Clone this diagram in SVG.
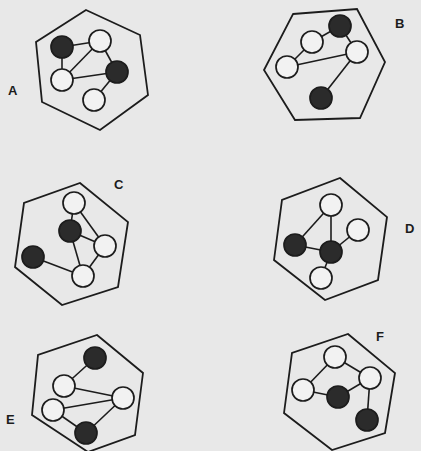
<svg xmlns="http://www.w3.org/2000/svg" width="421" height="451" viewBox="0 0 421 451">
<style>
.hex{fill:none;stroke:#1c1c1c;stroke-width:1.8;stroke-linejoin:miter}
.e{stroke:#1c1c1c;stroke-width:1.6}
.o{fill:#f2f2f2;stroke:#1c1c1c;stroke-width:1.7}
.f{fill:#2b2b2b;stroke:#1c1c1c;stroke-width:1.7}
.lbl{font-family:"Liberation Sans",Arial,sans-serif;font-weight:bold;font-size:13px;fill:#1c1c1c}
</style>
<rect width="421" height="451" fill="#e8e8e8"/>
<g id="connectors">
<!-- A -->
<line class="e" x1="62" y1="47" x2="100" y2="41"/>
<line class="e" x1="62" y1="47" x2="62" y2="80"/>
<line class="e" x1="100" y1="41" x2="62" y2="80"/>
<line class="e" x1="100" y1="41" x2="117" y2="72"/>
<line class="e" x1="62" y1="80" x2="117" y2="72"/>
<line class="e" x1="117" y1="72" x2="94" y2="100"/>
<!-- B -->
<line class="e" x1="340" y1="26" x2="312" y2="42"/>
<line class="e" x1="312" y1="42" x2="287" y2="67"/>
<line class="e" x1="287" y1="67" x2="357" y2="52"/>
<line class="e" x1="340" y1="26" x2="357" y2="52"/>
<line class="e" x1="357" y1="52" x2="321" y2="98"/>
<!-- C -->
<line class="e" x1="74" y1="203" x2="70" y2="231"/>
<line class="e" x1="74" y1="203" x2="105" y2="246"/>
<line class="e" x1="70" y1="231" x2="105" y2="246"/>
<line class="e" x1="70" y1="231" x2="83" y2="276"/>
<line class="e" x1="105" y1="246" x2="83" y2="276"/>
<line class="e" x1="33" y1="257" x2="83" y2="276"/>
<!-- D -->
<line class="e" x1="331" y1="205" x2="295" y2="245"/>
<line class="e" x1="331" y1="205" x2="331" y2="252"/>
<line class="e" x1="358" y1="230" x2="331" y2="252"/>
<line class="e" x1="295" y1="245" x2="331" y2="252"/>
<line class="e" x1="331" y1="252" x2="321" y2="278"/>
<!-- E -->
<line class="e" x1="95" y1="358" x2="64" y2="386"/>
<line class="e" x1="64" y1="386" x2="123" y2="398"/>
<line class="e" x1="53" y1="410" x2="123" y2="398"/>
<line class="e" x1="53" y1="410" x2="86" y2="433"/>
<line class="e" x1="86" y1="433" x2="123" y2="398"/>
<!-- F -->
<line class="e" x1="335" y1="357" x2="303" y2="390"/>
<line class="e" x1="335" y1="357" x2="370" y2="378"/>
<line class="e" x1="303" y1="390" x2="338" y2="397"/>
<line class="e" x1="338" y1="397" x2="370" y2="378"/>
<line class="e" x1="370" y1="378" x2="367" y2="420"/>
</g>
<g id="figA">
<polygon class="hex" points="86,10 140,35 148,95 100,130 42,102 36,42"/>
<circle class="f" cx="62" cy="47" r="11"/>
<circle class="o" cx="100" cy="41" r="11"/>
<circle class="f" cx="117" cy="72" r="11"/>
<circle class="o" cx="62" cy="80" r="11"/>
<circle class="o" cx="94" cy="100" r="11"/>
<text class="lbl" x="8" y="95">A</text>
</g>
<g id="figB">
<polygon class="hex" points="293,14 357,9 385,62 360,118 295,120 264,70"/>
<circle class="f" cx="340" cy="26" r="11"/>
<circle class="o" cx="312" cy="42" r="11"/>
<circle class="o" cx="357" cy="52" r="11"/>
<circle class="o" cx="287" cy="67" r="11"/>
<circle class="f" cx="321" cy="98" r="11"/>
<text class="lbl" x="395" y="28">B</text>
</g>
<g id="figC">
<polygon class="hex" points="80,183 128,222 118,287 62,305 15,267 24,203"/>
<circle class="o" cx="74" cy="203" r="11"/>
<circle class="f" cx="70" cy="231" r="11"/>
<circle class="o" cx="105" cy="246" r="11"/>
<circle class="f" cx="33" cy="257" r="11"/>
<circle class="o" cx="83" cy="276" r="11"/>
<text class="lbl" x="114" y="189">C</text>
</g>
<g id="figD">
<polygon class="hex" points="340,178 387,217 378,280 325,300 274,260 282,200"/>
<circle class="o" cx="331" cy="205" r="11"/>
<circle class="o" cx="358" cy="230" r="11"/>
<circle class="f" cx="295" cy="245" r="11"/>
<circle class="f" cx="331" cy="252" r="11"/>
<circle class="o" cx="321" cy="278" r="11"/>
<text class="lbl" x="405" y="233">D</text>
</g>
<g id="figE">
<polygon class="hex" points="97,335 143,373 135,435 88,452 32,415 38,355"/>
<circle class="f" cx="95" cy="358" r="11"/>
<circle class="o" cx="64" cy="386" r="11"/>
<circle class="o" cx="123" cy="398" r="11"/>
<circle class="o" cx="53" cy="410" r="11"/>
<circle class="f" cx="86" cy="433" r="11"/>
<text class="lbl" x="6" y="424">E</text>
</g>
<g id="figF">
<polygon class="hex" points="348,334 395,373 385,433 332,450 284,413 292,353"/>
<circle class="o" cx="335" cy="357" r="11"/>
<circle class="o" cx="370" cy="378" r="11"/>
<circle class="o" cx="303" cy="390" r="11"/>
<circle class="f" cx="338" cy="397" r="11"/>
<circle class="f" cx="367" cy="420" r="11"/>
<text class="lbl" x="376" y="341">F</text>
</g>
</svg>
